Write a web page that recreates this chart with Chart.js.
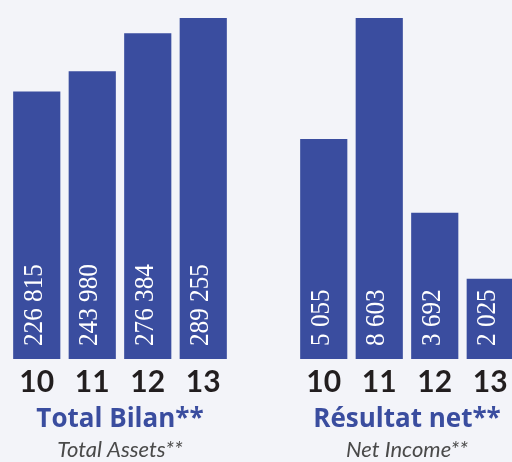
<!DOCTYPE html>
<html>
<head>
<meta charset="utf-8">
<script src="https://cdn.jsdelivr.net/npm/chart.js@4"></script>
<style>
  html, body { margin: 0; padding: 0; width: 512px; height: 462px; overflow: hidden; background: #f3f4f9; }
  canvas { position: absolute; top: 0; }
  #assetsChart { left: 0; }
  #incomeChart { left: 287px; }
</style>
</head>
<body>
<canvas id="assetsChart" width="240" height="470"></canvas>
<canvas id="incomeChart" width="240" height="470"></canvas>
<script>
const years = ["10", "11", "12", "13"];

const assetsValues = [226815, 243980, 276384, 289255];
const assetsLabels = ["226 815", "243 980", "276 384", "289 255"];

// first bar is drawn taller in the source than its printed value
const incomeValues = [5550, 8603, 3692, 2025];
const incomeLabels = ["5 055", "8 603", "3 692", "2 025"];

const blue = "#3a4d9f";

const barText = {
  id: "barText",
  afterDatasetsDraw(chart) {
    const ctx = chart.ctx;
    const texts = chart.options.plugins.barText.texts;
    chart.getDatasetMeta(0).data.forEach((bar, i) => {
      ctx.save();
      ctx.translate(bar.x + 5, bar.base - 13);
      ctx.rotate(-Math.PI / 2);
      ctx.scale(0.9, 1);
      ctx.font = "28px 'Liberation Serif'";
      ctx.fillStyle = "#ffffff";
      ctx.textAlign = "left";
      ctx.textBaseline = "alphabetic";
      ctx.fillText(texts[i], 0, 0);
      ctx.restore();
    });
  }
};

function makeChart(id, values, texts, title, subtitle) {
  return new Chart(document.getElementById(id), {
    type: "bar",
    data: {
      labels: years,
      datasets: [{
        data: values,
        backgroundColor: blue,
        categoryPercentage: 1,
        barPercentage: 0.85
      }]
    },
    options: {
      responsive: false,
      animation: false,
      layout: { padding: { top: 18, left: 9, right: 9, bottom: 6.5 } },
      scales: {
        x: {
          grid: { display: false, drawTicks: false },
          border: { display: false },
          ticks: {
            padding: 5,
            color: "#221e1f",
            font: { family: "Lato", weight: "bold", size: 30 }
          }
        },
        y: { display: false, min: 0, max: Math.max(...values) }
      },
      plugins: {
        legend: { display: false },
        tooltip: { enabled: false },
        title: {
          display: true,
          text: title,
          position: "bottom",
          weight: 1000,
          color: blue,
          padding: { top: 0, bottom: 0 },
          font: { family: "'Open Sans'", weight: "bold", size: 26, lineHeight: 1.1 }
        },
        subtitle: {
          display: true,
          text: subtitle,
          position: "bottom",
          weight: 2000,
          color: "#4a4a4a",
          padding: { top: 3.5, bottom: 0 },
          font: { family: "Lato", style: "italic", size: 22 }
        },
        barText: { texts: texts }
      }
    },
    plugins: [barText]
  });
}

makeChart("assetsChart", assetsValues, assetsLabels, "Total Bilan**", "Total Assets**");
makeChart("incomeChart", incomeValues, incomeLabels, "Résultat net**", "Net Income**");
</script>
</body>
</html>
